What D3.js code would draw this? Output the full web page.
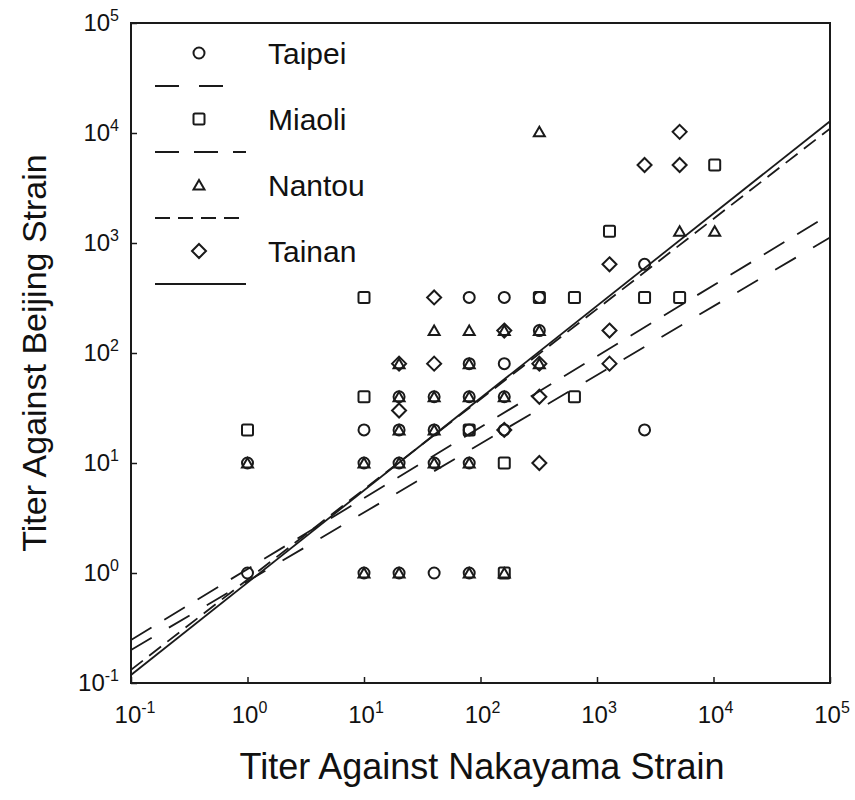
<!DOCTYPE html>
<html>
<head>
<meta charset="utf-8">
<script src="https://cdn.jsdelivr.net/npm/d3@7"></script>
<style>
  body { margin: 0; background: #fff; }
  svg text { font-family: "Liberation Sans", Arial, sans-serif; fill: #111; }
</style>
</head>
<body>
<svg id="chart" width="855" height="800"></svg>
<script>
// titer pairs [Nakayama, Beijing]
const taipei = [[1,1],[1,10],[10,1],[20,1],[40,1],[80,1],[10,10],[20,10],[40,10],[80,10],
  [10,20],[20,20],[40,20],[80,20],[160,20],[20,40],[40,40],[80,40],[160,40],[80,80],[160,80],
  [320,160],[80,320],[160,320],[320,320],[2560,640],[2560,20]];
const miaoli = [[1,20],[10,40],[10,320],[80,20],[160,10],[160,1],[320,320],[640,320],[640,40],
  [1280,1280],[2560,320],[5120,320],[10240,5120]];
const nantou = [[1,10],[10,1],[20,1],[80,1],[160,1],[10,10],[20,10],[40,10],[80,10],[20,20],
  [40,20],[20,40],[40,40],[80,40],[160,40],[20,80],[80,80],[320,80],[40,160],[80,160],[160,160],
  [320,160],[320,10240],[5120,1280],[10240,1280]];
const tainan = [[20,80],[20,30],[40,80],[40,320],[160,160],[160,20],[320,80],[320,40],[320,10],
  [1280,640],[1280,160],[1280,80],[2560,5120],[5120,5120],[5120,10240]];

// regression lines: log10(y) = a + b * log10(x)
const fitA = [-0.075, 0.036, -0.06, -0.088];
const fitB = [0.625, 0.645, 0.82, 0.839];

const seriesNames = ["Taipei", "Miaoli", "Nantou", "Tainan"];
const tickExps = [-1, 0, 1, 2, 3, 4, 5];

const margin = {left: 131, right: 25, top: 23, bottom: 117};
const width = 855, height = 800;
const svg = d3.select("#chart");

const x = d3.scaleLog().domain([0.1, 1e5]).range([margin.left, width - margin.right]);
const y = d3.scaleLog().domain([0.1, 1e5]).range([height - margin.bottom, margin.top]);

svg.append("defs").append("clipPath").attr("id", "plot-clip")
  .append("rect")
  .attr("x", margin.left).attr("y", margin.top)
  .attr("width", x(1e5) - x(0.1)).attr("height", y(0.1) - y(1e5));

const ink = "#1a1a1a";
const dashes = ["24,20", "24,15", "15,8", null];

// regression lines
const line = d3.line().x(d => x(d[0])).y(d => y(d[1]));
const lineG = svg.append("g").attr("clip-path", "url(#plot-clip)");
fitA.forEach((a, i) => {
  const pts = [0.1, 1e5].map(v => [v, Math.pow(10, a + fitB[i] * Math.log10(v))]);
  lineG.append("path")
    .attr("d", line(pts))
    .attr("fill", "none")
    .attr("stroke", ink)
    .attr("stroke-width", 1.8)
    .attr("stroke-dasharray", dashes[i]);
});

// marker shapes
function drawMarker(g, kind, cx, cy) {
  if (kind === 0) {
    g.append("circle").attr("cx", cx).attr("cy", cy).attr("r", 5.5);
  } else if (kind === 1) {
    g.append("rect").attr("x", cx - 5.5).attr("y", cy - 5.5)
      .attr("width", 11).attr("height", 11).attr("rx", 1.5);
  } else if (kind === 2) {
    g.append("path").attr("d", `M${cx},${cy - 5} L${cx + 5.5},${cy + 4.5} L${cx - 5.5},${cy + 4.5} Z`);
  } else {
    g.append("path").attr("d", `M${cx},${cy - 7} L${cx + 7},${cy} L${cx},${cy + 7} L${cx - 7},${cy} Z`);
  }
}

const markG = svg.append("g")
  .attr("fill", "none").attr("stroke", ink).attr("stroke-width", 2);
[taipei, miaoli, nantou, tainan].forEach((data, i) => {
  data.forEach(d => drawMarker(markG, i, x(d[0]), y(d[1])));
});

// frame
svg.append("rect")
  .attr("x", margin.left).attr("y", margin.top)
  .attr("width", x(1e5) - x(0.1)).attr("height", y(0.1) - y(1e5))
  .attr("fill", "none").attr("stroke", ink).attr("stroke-width", 2);

// ticks (inward) and labels
const tickVals = tickExps.map(e => Math.pow(10, e));
const xAxis = svg.append("g").attr("transform", `translate(0,${y(0.1)})`)
  .call(d3.axisBottom(x).tickValues(tickVals).tickSize(-6).tickFormat(""));
const yAxis = svg.append("g").attr("transform", `translate(${x(0.1)},0)`)
  .call(d3.axisLeft(y).tickValues(tickVals).tickSize(-6).tickFormat(""));
[xAxis, yAxis].forEach(ax => {
  ax.select(".domain").remove();
  ax.selectAll(".tick line").attr("stroke", ink).attr("stroke-width", 1.5);
});

function powerLabel(sel, e) {
  sel.append("tspan").text("10");
  sel.append("tspan").attr("font-size", 16).attr("dy", -10).text(e);
}

tickExps.forEach(e => {
  const t = svg.append("text")
    .attr("x", x(Math.pow(10, e)) + (e < 0 ? 4 : 2))
    .attr("y", y(0.1) + 40)
    .attr("text-anchor", "middle")
    .attr("font-size", 24);
  powerLabel(t, e);
});

tickExps.forEach(e => {
  const t = svg.append("text")
    .attr("x", 119)
    .attr("y", y(Math.pow(10, e)) + 8)
    .attr("text-anchor", "end")
    .attr("font-size", 24);
  powerLabel(t, e);
});

// axis titles
svg.append("text")
  .attr("x", 482).attr("y", 779)
  .attr("text-anchor", "middle")
  .attr("font-size", 36)
  .text("Titer Against Nakayama Strain");

svg.append("text")
  .attr("transform", `translate(46,${353}) rotate(-90)`)
  .attr("text-anchor", "middle")
  .attr("font-size", 34)
  .text("Titer Against Beijing Strain");

// legend
const legendRows = [53, 119, 185, 251];
seriesNames.forEach((name, i) => {
  const ly = legendRows[i];
  drawMarker(markG, i, 199, ly);
  svg.append("text")
    .attr("x", 268).attr("y", ly + 11)
    .attr("font-size", 30)
    .text(name);
  svg.append("line")
    .attr("x1", 155).attr("x2", i === 0 ? 224 : 246)
    .attr("y1", ly + 33).attr("y2", ly + 33)
    .attr("stroke", ink).attr("stroke-width", 1.8)
    .attr("stroke-dasharray", dashes[i]);
});
</script>
</body>
</html>
